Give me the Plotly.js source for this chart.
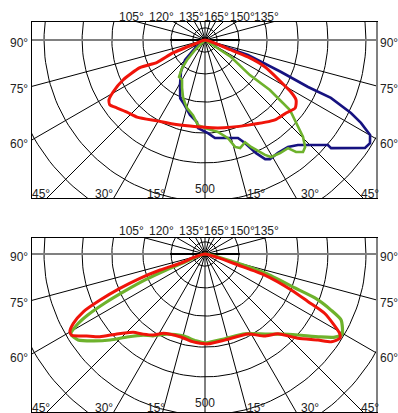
<!DOCTYPE html>
<html>
<head>
<meta charset="utf-8">
<script src="https://cdn.plot.ly/plotly-3.0.1.min.js"></script>
<style>html,body{margin:0;padding:0;background:#fff;}#chart{width:398px;height:413px;}</style>
</head>
<body>
<div id="chart"></div>
<script>
// ---- Data: angle from nadir (deg, negative = left) and intensity (cd/klm) ----
const p1BlueAng = [-51, -45, -37, -29, -23, -19, -15.6, -11.3, -5.6, -4.5, 1.8, 5.8, 18.6, 21.2, 24.3, 26.8, 28.6, 32.9, 37.8, 41.5, 49.5, 49.4, 56, 58, 60.1, 62, 63.4, 65.3, 65.5, 67.2, 70.8, 69];
const p1BlueVal = [40, 88, 125, 161, 198, 208, 221, 239, 258, 276, 291, 308, 323, 345, 388, 417, 424, 420, 423, 438, 505, 519, 603, 608, 595, 552, 510, 433, 354, 258, 142, 43];

const p1GreenAng = [-45, -42, -39.4, -35.1, -29.9, -25.6, -21.1, -17.6, -14.8, -9.1, -4.7, 0, 8, 13.2, 15.7, 18, 21.4, 23.3, 26.2, 27.6, 29.4, 33.6, 37.5, 39.1, 41.2, 43.1, 45.3, 46.9, 50.5, 52.4, 52, 56.8];
const p1GreenVal = [44, 84, 113, 141, 144, 166, 191, 207, 220, 238, 267, 275, 290, 315, 347, 355, 343, 364, 390, 405, 420, 424, 426, 451, 465, 458, 431, 398, 344, 256, 178, 97];

const p1RedAng = [-69, -68, -65, -67, -64, -60.5, -58, -55.6, -53.3, -47.3, -41.4, -30.7, -20.9, -9.9, -3.3, 8.4, 26.8, 41.2, 48, 53, 56.6, 58.8, 61.1, 65.8, 68.4, 69];
const p1RedVal = [27, 108, 165, 221, 285, 330, 354, 360, 351, 332, 321, 294, 281, 273, 272, 278, 298, 332, 341, 353, 341, 314, 271, 206, 144, 87];

const p2GreenAng = [-68.2, -67.6, -66.6, -65.2, -63.9, -62.5, -61, -59.2, -55.9, -52.2, -47.8, -43.2, -37.4, -32.4, -25.4, -15, -5.9, 0, 12.6, 26.6, 36.9, 43.5, 48.9, 54.2, 57.4, 59.7, 64.1, 66, 68.2, 69.3, 72.4, 74.9];
const p2GreenVal = [67, 135, 204, 275, 348, 413, 458, 488, 479, 443, 400, 356, 319, 303, 277, 265, 273, 278, 272, 279, 313, 345, 385, 443, 482, 496, 473, 431, 370, 301, 197, 84];

const p2RedAng = [-74, -69.6, -70.4, -69.5, -68, -66.3, -64.6, -62.2, -60.1, -58.7, -55.3, -51.8, -47.8, -42.5, -37.6, -32.5, -27.7, -16.8, -7.6, -3.2, 1.9, 12.9, 28.3, 36, 42.4, 47.8, 52.7, 55.2, 58, 59.5, 63.6, 65.2, 67.4, 70.6, 71.6, 74.1];
const p2RedVal = [30, 83, 149, 217, 287, 358, 421, 465, 487, 488, 450, 418, 372, 332, 316, 300, 280, 270, 277, 279, 281, 276, 284, 317, 338, 392, 444, 481, 497, 488, 418, 355, 292, 198, 109, 42];

// grid circles (cd/klm) and tick labels
const gridCircles = [38, 106, 194, 291, 384, 503, 616];
const sideLabels = ['90°', '75°', '60°'];
const topLabels = ['105°', '120°', '135°', '165°', '150°', '135°'];
const bottomLabels = ['45°', '30°', '15°', '500', '15°', '30°', '45°'];

// ---- Rendering ----
const K = 0.32; // axis units per cd/klm
function polarToXY(ang, val) {
  const x = [0], y = [0];
  for (let i = 0; i < ang.length; i++) {
    const t = ang[i] * Math.PI / 180;
    x.push(val[i] * K * Math.sin(t));
    y.push(-val[i] * K * Math.cos(t));
  }
  x.push(0); y.push(0);
  return {x, y};
}
function gridTraces(xa, ya) {
  const cx = [], cy = [];
  gridCircles.forEach(v => {
    for (let a = 0; a <= 360; a += 2) {
      const t = a * Math.PI / 180;
      cx.push(v * K * Math.cos(t)); cy.push(v * K * Math.sin(t));
    }
    cx.push(null); cy.push(null);
  });
  const rx = [], ry = [];
  for (let a = -180; a < 180; a += 15) {
    if (a === 90 || a === -90) continue;
    const t = a * Math.PI / 180;
    rx.push(0, 700 * Math.sin(t), null);
    ry.push(0, -700 * Math.cos(t), null);
  }
  return [
    {x: cx, y: cy, xaxis: xa, yaxis: ya, mode: 'lines', line: {color: '#000', width: 1}, hoverinfo: 'skip'},
    {x: rx, y: ry, xaxis: xa, yaxis: ya, mode: 'lines', line: {color: '#000', width: 1}, hoverinfo: 'skip'},
    {x: [-200, 200], y: [0, 0], xaxis: xa, yaxis: ya, mode: 'lines', line: {color: '#808080', width: 2}, hoverinfo: 'skip'},
    {x: [-35, 35], y: [0, 0], xaxis: xa, yaxis: ya, mode: 'lines', line: {color: '#000', width: 2}, hoverinfo: 'skip'}
  ];
}
function curve(ang, val, color, width, xa, ya, shape) {
  const p = polarToXY(ang, val);
  return {x: p.x, y: p.y, xaxis: xa, yaxis: ya, mode: 'lines',
          line: {color: color, width: width, shape: shape || 'linear', smoothing: 0.6}, hoverinfo: 'skip'};
}
const RED = 'rgb(240,20,10)', GREEN = 'rgb(110,178,44)', NAVY = 'rgb(22,18,128)';

const traces = [].concat(
  gridTraces('x', 'y'),
  [curve(p1BlueAng, p1BlueVal, NAVY, 2.6, 'x', 'y'),
   curve(p1GreenAng, p1GreenVal, GREEN, 2.6, 'x', 'y'),
   curve(p1RedAng, p1RedVal, RED, 3, 'x', 'y', 'spline')],
  gridTraces('x2', 'y2'),
  [curve(p2GreenAng, p2GreenVal, GREEN, 3.2, 'x2', 'y2', 'spline'),
   curve(p2RedAng, p2RedVal, RED, 3, 'x2', 'y2', 'spline')]
);

const W = 398, H = 413;
const CX = 205;             // centre x in pixels
const CY = [40, 254];       // centre y of each panel in pixels
const xDom = [32 / W, 377 / W];
const axBase = {showgrid: false, zeroline: false, showticklabels: false, ticks: '',
                showline: true, mirror: true, linecolor: '#000', linewidth: 1, fixedrange: true};

const font = {family: 'Liberation Sans, Arial, sans-serif', size: 12, color: '#222'};
const annotations = [];
function ann(t, dx, dy, cy) {
  annotations.push({text: t, x: (CX + dx) / W, y: 1 - (cy - dy) / H, xref: 'paper', yref: 'paper',
                    showarrow: false, font: font, xanchor: 'center', yanchor: 'middle'});
}
function addLabels(cy) {
  const sideY = [-3, -49, -104];
  sideLabels.forEach((t, i) => { ann(t, -186.5, sideY[i], cy); ann(t, 183.5, sideY[i], cy); });
  const topX = [-73.5, -43.5, -13.5, 11.5, 37.5, 61.5];
  topLabels.forEach((t, i) => ann(t, topX[i], 23, cy));
  const botX = [-164, -101.5, -49, 0, 51, 104.5, 164.5];
  const botY = [-154, -154, -154, -149, -154, -154, -154];
  bottomLabels.forEach((t, i) => ann(t, botX[i], botY[i], cy));
}
CY.forEach(addLabels);

const layout = {
  width: W, height: H,
  margin: {l: 0, r: 0, t: 0, b: 0},
  paper_bgcolor: '#fff', plot_bgcolor: '#fff',
  showlegend: false,
  xaxis: Object.assign({}, axBase, {domain: xDom, range: [-173, 172], anchor: 'y'}),
  yaxis: Object.assign({}, axBase, {domain: [1 - 198 / H, 1 - 22 / H], range: [-158, 18], anchor: 'x'}),
  xaxis2: Object.assign({}, axBase, {domain: xDom, range: [-173, 172], anchor: 'y2'}),
  yaxis2: Object.assign({}, axBase, {domain: [1 - 412 / H, 1 - 238 / H], range: [-158, 16], anchor: 'x2'}),
  annotations: annotations,
  shapes: [
    {type: 'line', xref: 'paper', yref: 'paper', x0: 377 / W, x1: 377 / W, y0: 1 - 198 / H, y1: 1 - 22 / H, line: {color: '#808080', width: 2}},
    {type: 'line', xref: 'paper', yref: 'paper', x0: 377 / W, x1: 377 / W, y0: 1 - 412 / H, y1: 1 - 238 / H, line: {color: '#808080', width: 2}}
  ]
};

Plotly.newPlot('chart', traces, layout, {staticPlot: true, displayModeBar: false});
</script>
</body>
</html>
